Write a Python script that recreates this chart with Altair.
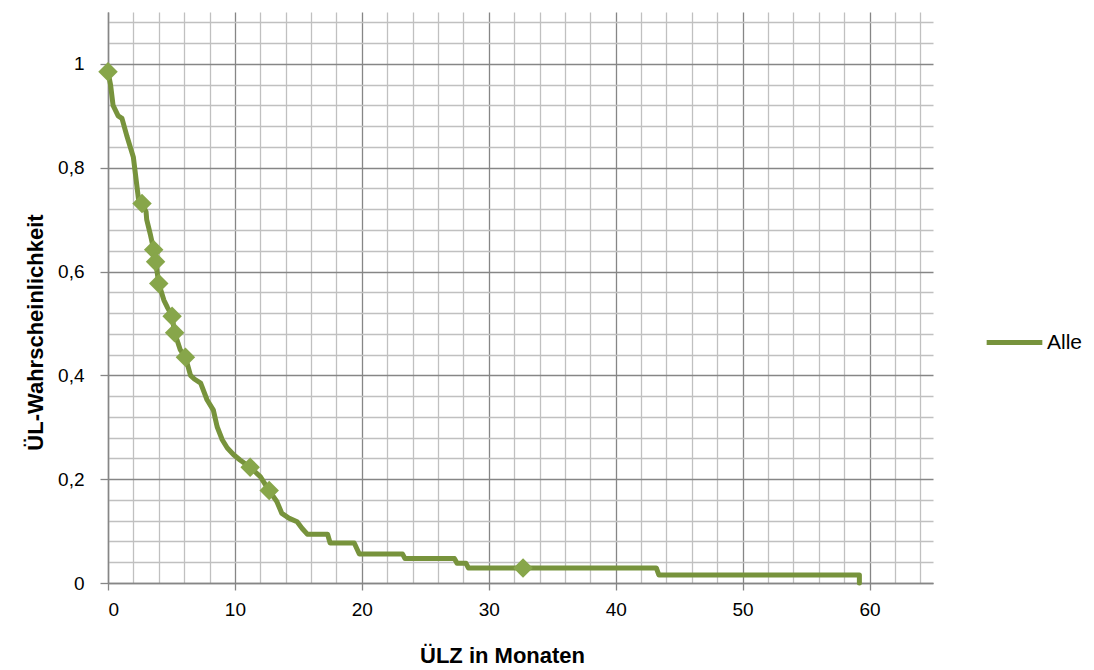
import altair as alt
import pandas as pd

# Kaplan-Meier estimate: time in months and survival probability
months = [0, 0.2, 0.4, 0.8, 1.1, 1.5, 2.0, 2.4, 2.68, 3.0, 3.05, 3.35, 3.6, 3.75,
          4.0, 4.4, 4.7, 5.05, 5.25, 5.7, 6.1, 6.5, 6.8, 7.3, 7.8, 8.3, 8.6, 9.0,
          9.4, 9.9, 10.4, 11.2, 12.0, 12.7, 13.3, 13.7, 14.25, 14.9, 15.3, 15.7,
          17.3, 17.5, 19.4, 19.8, 23.2, 23.4, 27.3, 27.5, 28.2, 28.4, 32.7, 43.2,
          43.4, 59.2, 59.2]
survival = [0.985, 0.96, 0.92, 0.90, 0.895, 0.86, 0.82, 0.74, 0.731, 0.715, 0.70,
            0.67, 0.642, 0.619, 0.577, 0.545, 0.53, 0.514, 0.482, 0.449, 0.435,
            0.40, 0.393, 0.385, 0.353, 0.333, 0.301, 0.276, 0.26, 0.247, 0.237,
            0.223, 0.205, 0.178, 0.157, 0.134, 0.125, 0.118, 0.105, 0.094, 0.094,
            0.077, 0.077, 0.056, 0.056, 0.047, 0.047, 0.038, 0.038, 0.029, 0.029,
            0.029, 0.0154, 0.0154, 0.0]

# censored observations
cens_months = [0, 2.68, 3.6, 3.75, 4.0, 5.05, 5.25, 6.1, 11.2, 12.7, 32.7]
cens_survival = [0.985, 0.731, 0.642, 0.619, 0.577, 0.514, 0.482, 0.435,
                 0.223, 0.178, 0.029]

series_name = "Alle"

# gridline positions (major lines every 10 months / 0.2)
x_grid = [0, 2, 4, 6, 8, 10, 12, 14, 16, 18, 20, 22, 24, 26, 28, 30, 32, 34, 36,
          38, 40, 42, 44, 46, 48, 50, 52, 54, 56, 58, 60, 62, 64]
y_grid = [round(i * 0.04, 2) for i in range(28)]

LINE = "#77933C"
MARKER = "#87A64A"
MAJOR = "#868686"
MINOR = "#C0C0C0"
FONT = "Liberation Sans"

curve = pd.DataFrame({"t": months, "s": survival,
                      "idx": list(range(len(months))), "serie": series_name})
cens = pd.DataFrame({"t": cens_months, "s": cens_survival})

x_major = "datum.value % 10 === 0"
y_major = "abs(datum.value * 5 - round(datum.value * 5)) < 1e-6"

x_scale = alt.Scale(domain=[0, 65], nice=False, zero=False)
y_scale = alt.Scale(domain=[0, 1.1], nice=False, zero=False)

x_axis = alt.Axis(
    values=x_grid, tickCount=200, title="ÜLZ in Monaten",
    labelExpr=f"{x_major} ? toString(datum.value) : ''",
    labelOverlap=False, labelFont=FONT, labelFontSize=19, labelColor="black",
    labelPadding=10,
    grid=True, gridColor={"condition": {"test": x_major, "value": MAJOR}, "value": MINOR},
    gridWidth=1.3,
    ticks=True, tickSize=7, tickColor=MAJOR, tickWidth=1.3,
    tickOpacity={"condition": {"test": x_major, "value": 1}, "value": 0},
    domainColor=MAJOR, domainWidth=1.5,
    titleFont=FONT, titleFontSize=22, titleFontWeight="bold", titleColor="black",
    titleX=394, titleY=72, titleBaseline="middle", titleAlign="center",
)
y_axis = alt.Axis(
    values=y_grid, tickCount=200, title="ÜL-Wahrscheinlichkeit",
    labelExpr=f"{y_major} ? replace(format(datum.value, '~g'), '.', ',') : ''",
    labelOverlap=False, labelFont=FONT, labelFontSize=19, labelColor="black",
    labelPadding=16,
    grid=True, gridColor={"condition": {"test": y_major, "value": MAJOR}, "value": MINOR},
    gridWidth=1.3,
    ticks=True, tickSize=8, tickColor=MAJOR, tickWidth=1.3,
    tickOpacity={"condition": {"test": y_major, "value": 1}, "value": 0},
    domainColor=MAJOR, domainWidth=1.5,
    titleFont=FONT, titleFontSize=22, titleFontWeight="bold", titleColor="black",
    titleX=-73, titleY=320, titleBaseline="middle", titleAlign="center",
)

line = alt.Chart(curve).mark_line(
    strokeWidth=5, strokeCap="round", strokeJoin="round"
).encode(
    x=alt.X("t:Q", scale=x_scale, axis=x_axis),
    y=alt.Y("s:Q", scale=y_scale, axis=y_axis),
    order="idx:Q",
    color=alt.Color(
        "serie:N",
        scale=alt.Scale(domain=[series_name], range=[LINE]),
        legend=alt.Legend(
            title=None, orient="none", legendX=876, legendY=300,
            symbolType="stroke", symbolStrokeWidth=5, symbolSize=3100,
            labelFont=FONT, labelFontSize=21, labelColor="black",
            labelOffset=2,
        ),
    ),
)

markers = alt.Chart(cens).mark_point(
    shape="diamond", filled=True, size=380, color=MARKER, opacity=1
).encode(
    x=alt.X("t:Q", scale=x_scale),
    y=alt.Y("s:Q", scale=y_scale),
)

chart = alt.layer(line, markers).properties(
    width=825, height=571,
    autosize=alt.AutoSizeParams(type="none"),
    padding={"left": 108, "top": 12, "right": 161, "bottom": 87},
    background="white",
).configure_view(stroke=None)

chart.save("out.html", embed_options={"renderer": "svg", "actions": False})
